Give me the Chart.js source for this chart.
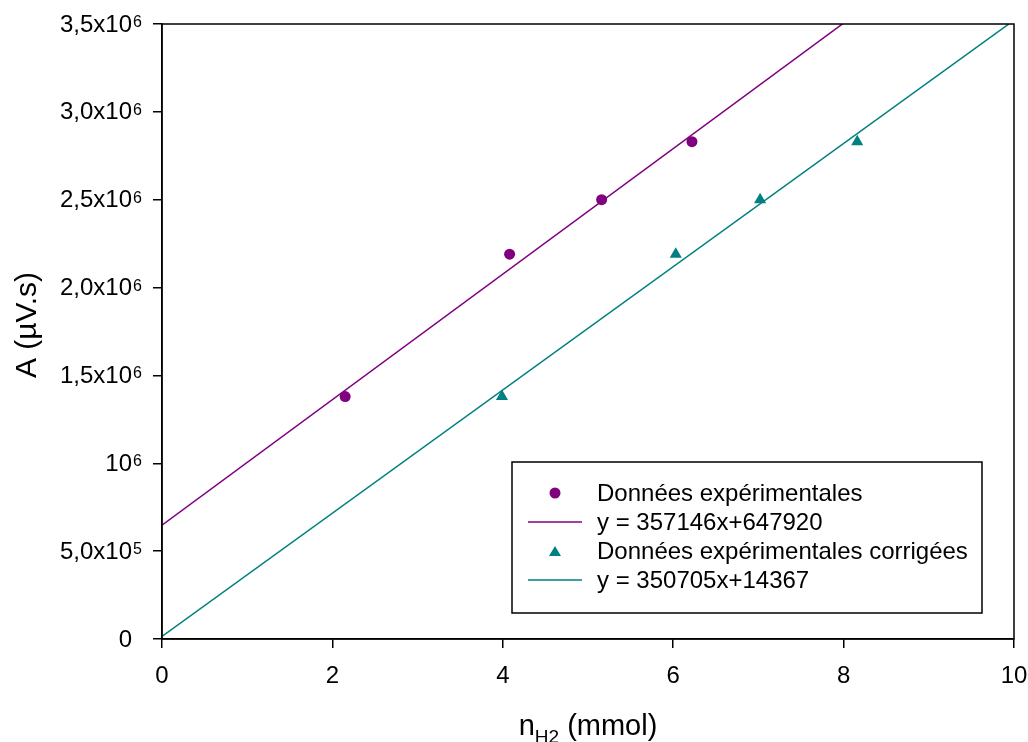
<!DOCTYPE html>
<html>
<head>
<meta charset="utf-8">
<script src="https://cdn.jsdelivr.net/npm/chart.js@4/dist/chart.umd.min.js"></script>
<style>
html,body{margin:0;padding:0;background:#fff;}
#wrap{width:1028px;height:742px;}
</style>
</head>
<body>
<div id="wrap"><canvas id="c" width="1028" height="742"></canvas></div>
<script>
// Data
const expX = [2.15, 4.08, 5.16, 6.22];
const expY = [1380000, 2190000, 2500000, 2830000];
const corrX = [3.99, 6.03, 7.02, 8.16];
const corrY = [1380000, 2190000, 2500000, 2830000];
// Fitted lines (slope, intercept) as given in the legend
const fitExp = [357146, 647920];
const fitCorr = [350705, 14367];
const lineXRange = [0, 10];
// Tick labels
const yTickValues = [0, 500000, 1000000, 1500000, 2000000, 2500000, 3000000, 3500000];
const yTickMantissa = ['0', '5,0x10', '10', '1,5x10', '2,0x10', '2,5x10', '3,0x10', '3,5x10'];
const yTickExponent = ['', '5', '6', '6', '6', '6', '6', '6'];
const legendLabels = ['Données expérimentales', 'y = 357146x+647920', 'Données expérimentales corrigées', 'y = 350705x+14367'];

const PURPLE = '#800080';
const TEAL = '#008080';
const FONT = '"Liberation Sans", Arial, sans-serif';

const pts = (xs, ys) => xs.map((x, i) => ({x: x, y: ys[i]}));
const fitLine = (f) => lineXRange.map(x => ({x: x, y: f[0] * x + f[1]}));

const decorPlugin = {
  id: 'decor',
  afterDraw(chart) {
    const ctx = chart.ctx;
    const a = chart.chartArea;
    const ys = chart.scales.y;
    ctx.save();
    // frame
    ctx.strokeStyle = '#000';
    ctx.lineWidth = 1.5;
    ctx.strokeRect(a.left, a.top, a.right - a.left, a.bottom - a.top);
    // y tick labels with superscripts
    ctx.fillStyle = '#000';
    yTickValues.forEach((v, i) => {
      const py = ys.getPixelForValue(v);
      ctx.textAlign = 'right';
      ctx.font = '24px ' + FONT;
      ctx.textBaseline = 'middle';
      ctx.fillText(yTickMantissa[i], 132, py + 1);
      if (yTickExponent[i]) {
        ctx.textAlign = 'left';
        ctx.font = '16px ' + FONT;
        ctx.textBaseline = 'alphabetic';
        ctx.fillText(yTickExponent[i], 133, py + 3);
      }
    });
    // y title
    ctx.save();
    ctx.translate(36, 325);
    ctx.rotate(-Math.PI / 2);
    ctx.font = '30px ' + FONT;
    ctx.textAlign = 'center';
    ctx.textBaseline = 'alphabetic';
    ctx.fillText('A (µV.s)', 0, 0);
    ctx.restore();
    // x title with subscript
    ctx.textAlign = 'left';
    ctx.textBaseline = 'alphabetic';
    ctx.font = '29px ' + FONT;
    const w1 = ctx.measureText('n').width;
    const w3 = ctx.measureText(' (mmol)').width;
    ctx.font = '19px ' + FONT;
    const w2 = ctx.measureText('H2').width;
    const cx = (a.left + a.right) / 2;
    const x0 = cx - (w1 + w2 + w3) / 2;
    const base = 735;
    ctx.font = '29px ' + FONT;
    ctx.fillText('n', x0, base);
    ctx.font = '19px ' + FONT;
    ctx.fillText('H2', x0 + w1, base + 8);
    ctx.font = '29px ' + FONT;
    ctx.fillText(' (mmol)', x0 + w1 + w2, base);
    // legend
    ctx.lineWidth = 1.5;
    ctx.strokeStyle = '#000';
    ctx.fillStyle = '#fff';
    ctx.fillRect(512, 462, 470, 151);
    ctx.strokeRect(512, 462, 470, 151);
    const rows = [493, 522, 551, 580];
    ctx.fillStyle = PURPLE;
    ctx.beginPath(); ctx.arc(555, rows[0], 5.5, 0, Math.PI * 2); ctx.fill();
    ctx.strokeStyle = PURPLE; ctx.lineWidth = 1.5;
    ctx.beginPath(); ctx.moveTo(528, rows[1]); ctx.lineTo(582, rows[1]); ctx.stroke();
    ctx.fillStyle = TEAL;
    ctx.beginPath(); ctx.moveTo(549, rows[2] + 5); ctx.lineTo(561, rows[2] + 5); ctx.lineTo(555, rows[2] - 5); ctx.closePath(); ctx.fill();
    ctx.strokeStyle = TEAL;
    ctx.beginPath(); ctx.moveTo(528, rows[3]); ctx.lineTo(582, rows[3]); ctx.stroke();
    ctx.fillStyle = '#000';
    ctx.font = '24px ' + FONT;
    ctx.textBaseline = 'middle';
    legendLabels.forEach((t, i) => ctx.fillText(t, 597, rows[i] + 1));
    ctx.restore();
  }
};

new Chart(document.getElementById('c'), {
  type: 'scatter',
  data: {
    datasets: [
      {label: legendLabels[0], data: pts(expX, expY), backgroundColor: PURPLE, borderColor: PURPLE, pointStyle: 'circle', pointRadius: 5.5, pointBorderWidth: 0, order: 1},
      {label: legendLabels[2], data: pts(corrX, corrY), backgroundColor: TEAL, borderColor: TEAL, pointStyle: 'triangle', pointRadius: 7, pointBorderWidth: 0, order: 2},
      {label: legendLabels[1], data: fitLine(fitExp), showLine: true, borderColor: PURPLE, borderWidth: 1.5, pointRadius: 0, order: 3},
      {label: legendLabels[3], data: fitLine(fitCorr), showLine: true, borderColor: TEAL, borderWidth: 1.5, pointRadius: 0, order: 4}
    ]
  },
  options: {
    responsive: false,
    animation: false,
    devicePixelRatio: 1,
    layout: {padding: {left: 0, top: 24, right: 14, bottom: 0}},
    plugins: {legend: {display: false}, tooltip: {enabled: false}},
    scales: {
      x: {
        type: 'linear', min: 0, max: 10,
        ticks: {stepSize: 2, color: '#000', font: {size: 24, family: FONT}, padding: 14, maxRotation: 0},
        grid: {display: true, drawOnChartArea: false, drawTicks: true, tickLength: 9, color: '#000', lineWidth: 1.5},
        border: {display: true, color: '#000', width: 1.5},
        afterFit(s) { s.height = 103; s.paddingLeft = 0; s.paddingRight = 0; }
      },
      y: {
        type: 'linear', min: 0, max: 3500000,
        ticks: {stepSize: 500000, display: false},
        grid: {display: true, drawOnChartArea: false, drawTicks: true, tickLength: 9, color: '#000', lineWidth: 1.5},
        border: {display: true, color: '#000', width: 1.5},
        afterFit(s) { s.width = 162; s.paddingTop = 0; s.paddingBottom = 0; }
      }
    }
  },
  plugins: [decorPlugin]
});
</script>
</body>
</html>
